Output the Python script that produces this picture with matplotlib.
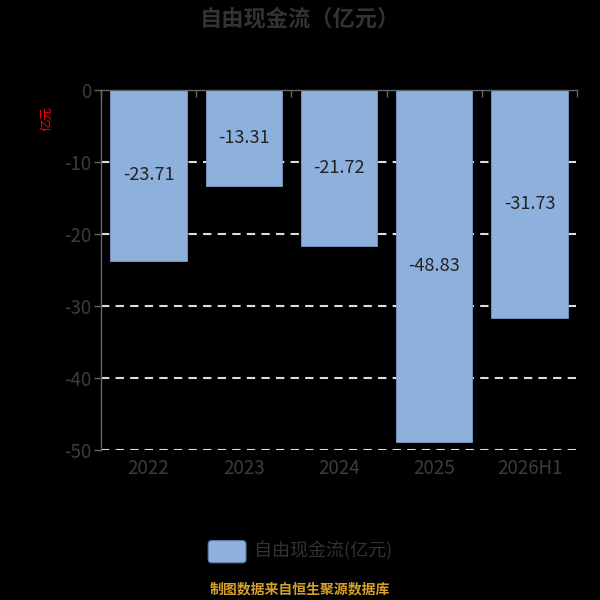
import matplotlib
matplotlib.use('Agg')
import matplotlib.pyplot as plt
import numpy as np
from matplotlib.patches import FancyBboxPatch

plt.rcParams['font.family'] = ['Noto Sans CJK SC', 'DejaVu Sans']

# Data
categories = ['2022', '2023', '2024', '2025', '2026H1']
values = [-23.71, -13.31, -21.72, -48.83, -31.73]
y_ticks = [0, -10, -20, -30, -40, -50]

bar_color = '#8eb0dc'
text_gray = '#3c3c3c'

fig = plt.figure(figsize=(6, 6), dpi=100, facecolor='black')
ax = fig.add_axes([0.168, 0.25, 0.794, 0.60])
ax.set_facecolor('black')

x = np.arange(len(categories))
ax.bar(x, values, width=0.8, color=bar_color, edgecolor='#7a9ccc', linewidth=0.6, zorder=3)

for xi, v in zip(x, values):
    ax.text(xi, v / 2, f'{v:.2f}', ha='center', va='center', fontsize=13, color='#222222', zorder=4)

ax.set_xlim(-0.5, len(categories) - 0.5)
ax.set_ylim(-50, 0)
ax.set_yticks(y_ticks)
ax.set_yticklabels([str(t) for t in y_ticks], fontsize=13.5, color=text_gray, fontweight='medium')

# dashed grid lines
for t in y_ticks[1:]:
    ax.axhline(t, color='#dddddd', linestyle=(0, (4, 3)), linewidth=1.5, zorder=1)

# x axis: labels at bottom, axis line with boundary ticks at top
ax.set_xticks(x)
ax.set_xticklabels(categories, fontsize=13.5, color=text_gray, fontweight='medium')
ax.set_xticks(np.arange(len(categories) + 1) - 0.5, minor=True)
ax.tick_params(axis='x', which='major', length=0, pad=6)
ax.tick_params(axis='x', which='minor', bottom=False, top=True, direction='in',
               length=5, color='#666666', width=1)
ax.tick_params(axis='y', length=5, color='#666666', width=1, pad=2)

for side in ['right', 'bottom']:
    ax.spines[side].set_visible(False)
for side in ['left', 'top']:
    ax.spines[side].set_color('#666666')
    ax.spines[side].set_linewidth(1)
    ax.spines[side].set_zorder(5)

# title
fig.text(0.5, 0.968, '自由现金流（亿元）', ha='center', va='center', fontsize=16,
         fontweight='bold', color='#333333')

# y axis unit label
fig.text(0.078, 0.803, '亿元', ha='center', va='center', fontsize=9, color='red', rotation=90)

# legend
patch = FancyBboxPatch((0.347, 0.062), 0.063, 0.037, boxstyle='round,pad=0,rounding_size=0.006',
                       transform=fig.transFigure, facecolor=bar_color, edgecolor='#5a7aa8',
                       linewidth=0.8)
fig.patches.append(patch)
fig.text(0.423, 0.081, '自由现金流(亿元)', ha='left', va='center', fontsize=13, color='#333333')

# source note
fig.text(0.5, 0.017, '制图数据来自恒生聚源数据库', ha='center', va='center', fontsize=10,
         color='#d4a12a', fontweight='bold')

fig.savefig('out.png', dpi=100, facecolor='black')
